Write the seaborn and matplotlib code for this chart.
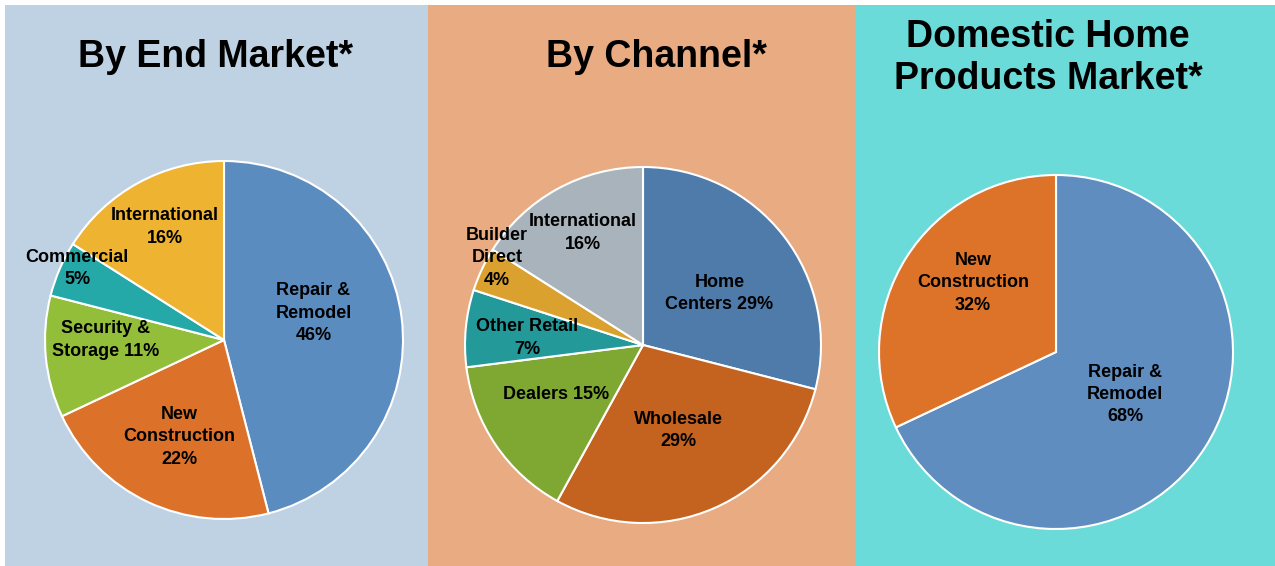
import matplotlib
matplotlib.use("Agg")
import matplotlib.pyplot as plt
from matplotlib.patches import Rectangle
import seaborn as sns

sns.set_style("white")
plt.rcParams['font.family'] = ['Liberation Sans', 'DejaVu Sans']

# ---- Data ----
end_market_labels = ["Repair &\nRemodel\n46%", "New\nConstruction\n22%", "Security &\nStorage 11%",
                     "Commercial\n5%", "International\n16%"]
end_market_values = [46, 22, 11, 5, 16]
end_market_colors = ["#5B8CC0", "#DC722A", "#93BE3A", "#25A8A8", "#EDB331"]

channel_labels = ["Home\nCenters 29%", "Wholesale\n29%", "Dealers 15%", "Other Retail\n7%",
                  "Builder\nDirect\n4%", "International\n16%"]
channel_values = [29, 29, 15, 7, 4, 16]
channel_colors = ["#4F7BAA", "#C4621F", "#7FA832", "#23999A", "#DBA12E", "#A9B3BB"]

domestic_labels = ["Repair &\nRemodel\n68%", "New\nConstruction\n32%"]
domestic_values = [68, 32]
domestic_colors = ["#5F8DBF", "#DD7328"]

titles = ["By End Market*", "By Channel*", "Domestic Home\nProducts Market*"]

# label positions (in pie-radius units relative to the pie center)
end_market_pos = [(0.50, 0.15), (-0.25, -0.54), (-0.66, 0.00), (-0.82, 0.40), (-0.33, 0.63)]
channel_pos = [(0.43, 0.29), (0.20, -0.48), (-0.49, -0.28), (-0.65, 0.04), (-0.82, 0.49), (-0.34, 0.63)]
domestic_pos = [(0.39, -0.24), (-0.47, 0.39)]

W, H = 1275, 566
fig = plt.figure(figsize=(W / 100, H / 100), dpi=100)
fig.patch.set_facecolor("white")

# panel backgrounds (pixel extents)
panels = [(5, 428, "#BED2E4"), (428, 855, "#E8AB82"), (855, 1275, "#6BDBDA")]
for x0, x1, c in panels:
    fig.patches.append(Rectangle((x0 / W, 0), (x1 - x0) / W, (H - 5) / H,
                                 transform=fig.transFigure, facecolor=c, edgecolor="none", zorder=-5))

pies = [
    (end_market_values, end_market_colors, end_market_labels, end_market_pos, (224, 340, 179)),
    (channel_values, channel_colors, channel_labels, channel_pos, (643, 345, 178)),
    (domestic_values, domestic_colors, domestic_labels, domestic_pos, (1056, 352, 177)),
]

for vals, cols, labs, pos, (cx, cy, r) in pies:
    ax = fig.add_axes([(cx - r) / W, (H - cy - r) / H, 2 * r / W, 2 * r / H])
    ax.set_facecolor("none")
    ax.set_zorder(2)
    ax.pie(vals, colors=cols, startangle=90, counterclock=False, radius=1.0,
           wedgeprops=dict(edgecolor="white", linewidth=1.5))
    ax.set_xlim(-1.0, 1.0)
    ax.set_ylim(-1.0, 1.0)
    ax.axis("off")
    for lab, (px, py) in zip(labs, pos):
        ax.text(px, py, lab, ha="center", va="center", fontsize=13,
                fontweight="bold", color="black", linespacing=1.42)

title_pos = [(215, 57), (656, 57), (1048, 58)]
for t, (tx, ty) in zip(titles, title_pos):
    fig.text(tx / W, 1 - ty / H, t, ha="center", va="center", fontsize=27,
             fontweight="bold", color="black", linespacing=1.22, zorder=3)

fig.savefig("out.png", dpi=100, facecolor=fig.get_facecolor())
